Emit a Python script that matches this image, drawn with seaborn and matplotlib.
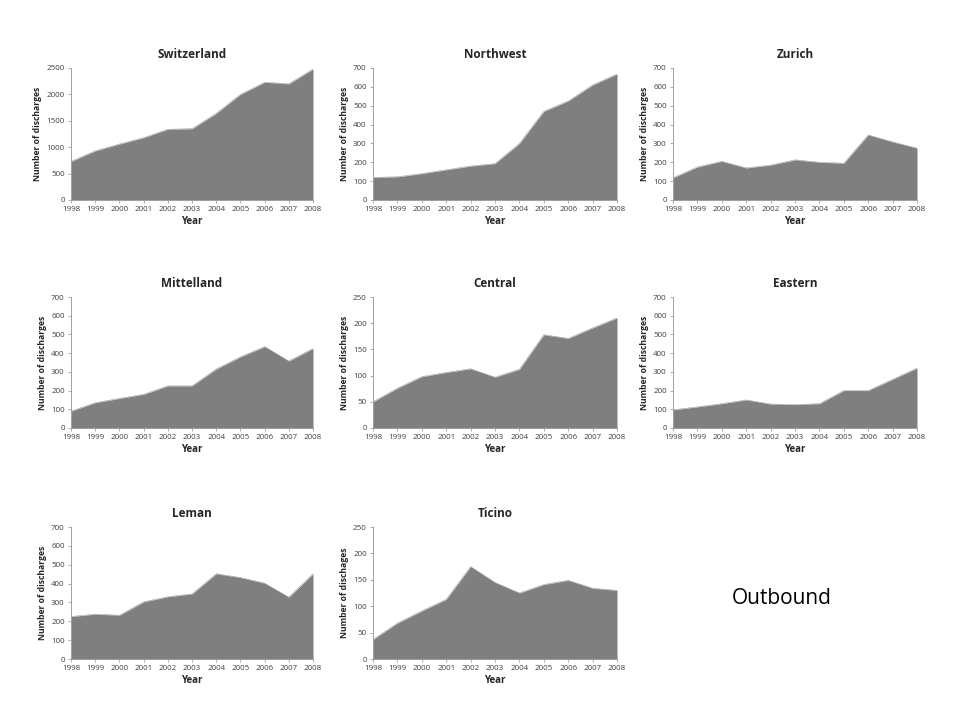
import matplotlib
matplotlib.use("Agg")
import matplotlib.pyplot as plt
import seaborn as sns
import pandas as pd

years = [1998, 1999, 2000, 2001, 2002, 2003, 2004, 2005, 2006, 2007, 2008]
switzerland = [730, 930, 1060, 1180, 1340, 1350, 1640, 2000, 2230, 2200, 2480]
northwest = [120, 123, 140, 160, 180, 193, 300, 470, 525, 610, 668]
zurich = [118, 175, 205, 170, 185, 213, 200, 195, 345, 308, 275]
mittelland = [90, 135, 158, 180, 225, 225, 315, 380, 435, 358, 425]
central = [50, 76, 98, 106, 113, 97, 112, 178, 171, 191, 210]
eastern = [97, 113, 130, 150, 128, 125, 130, 200, 200, 260, 320]
leman = [225, 238, 232, 303, 330, 345, 452, 432, 402, 328, 452]
ticino = [37, 68, 91, 113, 175, 145, 125, 141, 149, 134, 130]

titles = ["Switzerland", "Northwest", "Zurich", "Mittelland", "Central", "Eastern", "Leman", "Ticino"]
series = [switzerland, northwest, zurich, mittelland, central, eastern, leman, ticino]
ymax = [2500, 700, 700, 700, 250, 700, 700, 250]
ystep = [500, 100, 100, 100, 50, 100, 100, 50]
ylabels = ["Number of discharges"] * 7 + ["Number of dischages"]

sns.set_style("white")
plt.rcParams['font.family'] = ['Open Sans', 'DejaVu Sans']

fig = plt.figure(figsize=(9.6, 7.2), dpi=100)
W, H = 960, 720
cols = [(71, 313), (373, 617), (673, 917)]
rows = [(68, 200), (297, 428), (527, 659)]

for i, (t, s) in enumerate(zip(titles, series)):
    r, c = divmod(i, 3)
    x0, x1 = cols[c]
    y0, y1 = rows[r]
    ax = fig.add_axes([x0 / W, 1 - y1 / H, (x1 - x0) / W, (y1 - y0) / H])
    df = pd.DataFrame({"Year": years, "Value": s})
    ax.fill_between(df["Year"], 0, df["Value"], color="#7f7f7f", linewidth=0)
    sns.lineplot(data=df, x="Year", y="Value", ax=ax, color="#7f7f7f", linewidth=0.3)
    ax.set_xlim(1998, 2008)
    ax.set_ylim(0, ymax[i])
    ax.set_xticks(years)
    ax.set_xticklabels([str(y) for y in years], fontsize=5.8, color="#404040")
    ax.set_yticks(list(range(0, ymax[i] + 1, ystep[i])))
    ax.tick_params(axis="y", labelsize=5.8, labelcolor="#404040", left=True, length=2.5, width=0.6, color="#a0a0a0", pad=2)
    ax.tick_params(axis="x", bottom=True, length=2.5, width=0.6, color="#a0a0a0", pad=2)
    for sp in ["top", "right"]:
        ax.spines[sp].set_visible(False)
    for sp in ["left", "bottom"]:
        ax.spines[sp].set_color("#a0a0a0")
        ax.spines[sp].set_linewidth(0.7)
    ax.set_title(t, fontsize=8.5, fontweight="bold", pad=7)
    ax.set_xlabel("Year", fontsize=7, fontweight="bold", labelpad=2)
    ax.set_ylabel(ylabels[i], fontsize=6.2, fontweight="bold", labelpad=3)

fig.text(782 / W, 1 - 598 / H, "Outbound", fontsize=15, ha="center", va="center", color="black")

fig.savefig("out.png", dpi=100)
